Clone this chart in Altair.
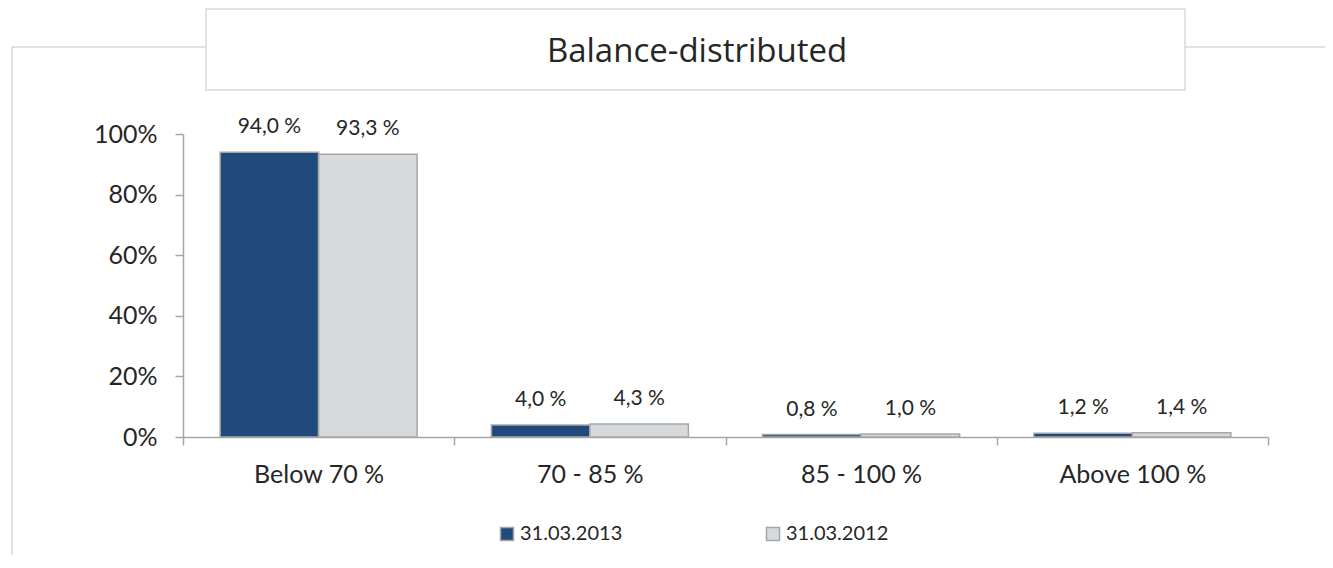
import altair as alt
import pandas as pd

title_text = "Balance-distributed"
categories = ["Below 70 %", "70 - 85 %", "85 - 100 %", "Above 100 %"]
series = ["31.03.2013", "31.03.2012"]
values_2013 = [94.0, 4.0, 0.8, 1.2]
values_2012 = [93.3, 4.3, 1.0, 1.4]
y_ticks = [0, 20, 40, 60, 80, 100]
colors = ["#214a7c", "#d6dadd"]

rows = []
for c, a, b in zip(categories, values_2013, values_2012):
    rows.append({"category": c, "series": series[0], "value": a})
    rows.append({"category": c, "series": series[1], "value": b})
df = pd.DataFrame(rows)

W, H = 1085, 303
PAD_L, PAD_T, PAD_R, PAD_B = 175, 126, 57, 118
GRAY = "#a6a6a6"
TXT = "#262626"

one = alt.Data(values=[{"t": title_text}])

x_enc = alt.X(
    "category:N", sort=categories, title=None,
    scale=alt.Scale(paddingInner=0, paddingOuter=0),
    axis=alt.Axis(labelAngle=0, labelFont="Lato", labelFontSize=25, labelColor=TXT,
                  labelBaseline="alphabetic", labelPadding=37, tickBand="extent",
                  tickSize=8, tickColor=GRAY, tickWidth=1.5, domainColor=GRAY,
                  domainWidth=1.5, grid=False),
)
xoff_enc = alt.XOffset("series:N", sort=series,
                       scale=alt.Scale(paddingInner=0, paddingOuter=0.377))
y_enc = alt.Y(
    "value:Q", title=None, scale=alt.Scale(domain=[0, 100], nice=False),
    axis=alt.Axis(values=y_ticks, labelExpr="datum.value + '%'", labelFont="Lato",
                  labelFontSize=25, labelColor=TXT, labelPadding=18, tickSize=8,
                  tickColor=GRAY, tickWidth=1.5, domainColor=GRAY, domainWidth=1.5,
                  grid=False),
)

# decorative frame
frame_h = alt.Chart(one).mark_rule(color="#d9d9d9", strokeWidth=1.5).encode(
    x=alt.value(12 - 183), x2=alt.value(PAD_R + W), y=alt.value(47 - 134))
frame_v = alt.Chart(one).mark_rule(color="#d9d9d9", strokeWidth=1.5).encode(
    x=alt.value(12 - 183), y=alt.value(47 - 134), y2=alt.value(H + PAD_B))
title_box = alt.Chart(one).mark_rect(fill="white", stroke="#d9d9d9", strokeWidth=1.5).encode(
    x=alt.value(206 - 183), x2=alt.value(1185 - 183), y=alt.value(9 - 134), y2=alt.value(90 - 134))
title = alt.Chart(one).mark_text(font="Open Sans", fontSize=33, color=TXT,
                                 baseline="alphabetic", align="center").encode(
    x=alt.value(697 - 183), y=alt.value(62 - 134), text="t:N")

bars = alt.Chart(df).mark_bar(stroke=GRAY, strokeWidth=1.5).encode(
    x=x_enc, xOffset=xoff_enc, y=y_enc,
    color=alt.Color("series:N", sort=series, title=None,
                    scale=alt.Scale(domain=series, range=colors),
                    legend=alt.Legend(orient="none", legendX=314, legendY=390,
                                      direction="horizontal", symbolType="square",
                                      symbolSize=169, symbolStrokeColor=GRAY,
                                      symbolStrokeWidth=1.5, labelFont="Lato",
                                      labelFontSize=20, labelColor=TXT, labelOffset=3,
                                      columnPadding=140, padding=0)),
)

labels = alt.Chart(df).transform_calculate(
    lbl="replace(format(datum.value, '.1f'), '.', ',') + ' %'"
).mark_text(font="Lato", fontSize=21, color=TXT, baseline="alphabetic", dy=-19).encode(
    x=x_enc, xOffset=xoff_enc, y=y_enc, text="lbl:N")

chart = alt.layer(frame_h, frame_v, title_box, title, bars, labels).properties(
    width=W, height=H,
    autosize=alt.AutoSizeParams(type="none"),
    padding={"left": PAD_L, "top": PAD_T, "right": PAD_R, "bottom": PAD_B},
).configure_view(stroke=None)

chart.save("out.html", embed_options={"renderer": "svg", "actions": False})
